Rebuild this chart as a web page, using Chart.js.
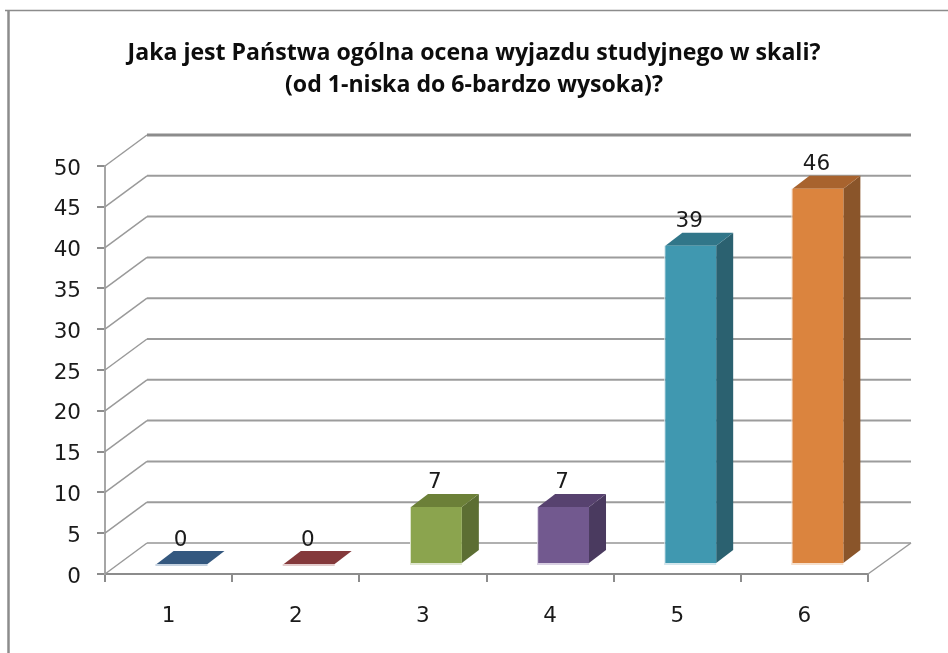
<!DOCTYPE html>
<html><head><meta charset="utf-8">
<style>html,body{margin:0;padding:0;background:#fff}canvas{display:block}</style>
<script src="https://cdn.jsdelivr.net/npm/chart.js@4"></script></head>
<body><canvas id="c" width="948" height="653"></canvas>
<script>
const titleLines = ['Jaka jest Państwa ogólna ocena wyjazdu studyjnego w skali?', '(od 1-niska do 6-bardzo wysoka)?'];
const categories = ['1', '2', '3', '4', '5', '6'];
const values = [0, 0, 7, 7, 39, 46];
const frontColors = ['#4f81bd', '#a94542', '#8ba44e', '#72598f', '#4098b0', '#db843e'];
const sideColors = ['#2c4a6e', '#6e2b2b', '#5c6e33', '#4a3a5f', '#2b6170', '#8a552a'];
const topColors = ['#34587f', '#84393b', '#6c8038', '#57426f', '#317689', '#a8632e'];
const edgeColors = ['#c5d2e0', '#e3cccc', '#dfe6cf', '#d8cfe2', '#d3e6ec', '#f6dfcb'];

const WALL = {dx: 42, dy: -31};
const BAR_SHIFT = {dx: 13.5, dy: -10};
const BAR_DEPTH = {dx: 17, dy: -13};

const look3d = {
  id: 'look3d',
  beforeDraw(chart) {
    const c = chart.ctx;
    c.save();
    c.strokeStyle = '#8c8c8c';
    c.lineWidth = 1.5;
    c.beginPath(); c.moveTo(5, 10.5); c.lineTo(948, 10.5); c.stroke();
    c.lineWidth = 2.5;
    c.beginPath(); c.moveTo(8.5, 10); c.lineTo(8.5, 653); c.stroke();
    c.restore();
  },
  beforeDatasetsDraw(chart) {
    const c = chart.ctx, y = chart.scales.y, a = chart.chartArea;
    c.save();
    y.ticks.forEach((t) => {
      const py = y.getPixelForValue(t.value);
      const top = t.value === 50;
      c.strokeStyle = t.value === 0 ? '#b0b0b0' : (top ? '#8c8c8c' : '#9c9c9c');
      c.lineWidth = top ? 3 : 2;
      c.beginPath();
      c.moveTo(a.left + WALL.dx, py + WALL.dy);
      c.lineTo(a.right + WALL.dx + 1, py + WALL.dy);
      c.stroke();
      c.strokeStyle = '#9a9a9a';
      c.lineWidth = 1.5;
      c.beginPath();
      c.moveTo(a.left, py);
      c.lineTo(a.left + WALL.dx, py + WALL.dy);
      c.stroke();
    });
    const y0 = y.getPixelForValue(0);
    c.beginPath();
    c.moveTo(a.right, y0);
    c.lineTo(a.right + WALL.dx + 1, y0 + WALL.dy);
    c.stroke();

    c.translate(BAR_SHIFT.dx, BAR_SHIFT.dy);
    chart.getDatasetMeta(0).data.forEach((bar, i) => {
      const l = bar.x - bar.width / 2, r = bar.x + bar.width / 2;
      c.fillStyle = sideColors[i];
      c.beginPath();
      c.moveTo(r, bar.y);
      c.lineTo(r + BAR_DEPTH.dx, bar.y + BAR_DEPTH.dy);
      c.lineTo(r + BAR_DEPTH.dx, bar.base + BAR_DEPTH.dy);
      c.lineTo(r, bar.base);
      c.closePath(); c.fill();
      c.fillStyle = topColors[i];
      c.beginPath();
      c.moveTo(l, bar.y);
      c.lineTo(l + BAR_DEPTH.dx, bar.y + BAR_DEPTH.dy);
      c.lineTo(r + BAR_DEPTH.dx, bar.y + BAR_DEPTH.dy);
      c.lineTo(r, bar.y);
      c.closePath(); c.fill();
      c.fillStyle = edgeColors[i];
      c.fillRect(l - 1, bar.y, 1, bar.base - bar.y + 2);
      c.fillRect(l - 1, bar.base, bar.width + 1, 2);
    });
  },
  afterDatasetsDraw(chart) {
    const c = chart.ctx;
    c.restore();
    c.save();
    c.font = '21.5px "DejaVu Sans"';
    c.fillStyle = '#1a1a1a';
    c.textAlign = 'center';
    c.textBaseline = 'middle';
    chart.getDatasetMeta(0).data.forEach((bar, i) => {
      c.fillText(String(values[i]), bar.x + BAR_SHIFT.dx - 1.5, bar.y + BAR_SHIFT.dy - 24);
    });
    c.restore();
  }
};

new Chart(document.getElementById('c'), {
  type: 'bar',
  data: {labels: categories, datasets: [{
    data: values, backgroundColor: frontColors, barPercentage: 0.4, categoryPercentage: 1, borderWidth: 0
  }]},
  plugins: [look3d],
  options: {
    responsive: false,
    animation: false,
    plugins: {
      legend: {display: false},
      tooltip: {enabled: false},
      title: {
        display: true, text: titleLines, color: '#0d0d0d',
        font: {family: 'Open Sans', size: 23.1, weight: 'bold', lineHeight: 1.385},
        padding: {top: 37, bottom: 65}
      }
    },
    scales: {
      x: {
        afterFit(s) { s.height = 79; },
        border: {color: '#8c8c8c', width: 2},
        grid: {drawOnChartArea: false, drawTicks: true, tickLength: 8, color: '#8c8c8c', lineWidth: 2},
        ticks: {color: '#1a1a1a', padding: 22, maxRotation: 0, font: {family: 'DejaVu Sans', size: 21.5}}
      },
      y: {
        min: 0, max: 50,
        afterFit(s) { s.width = 105; },
        border: {color: '#a6a6a6', width: 2},
        grid: {drawOnChartArea: false, drawTicks: true, tickLength: 8, color: '#8c8c8c', lineWidth: 2},
        ticks: {stepSize: 5, color: '#1a1a1a', padding: 16, labelOffset: 3, font: {family: 'DejaVu Sans', size: 21.5}}
      },
      wallSpace: {
        position: 'right', min: 0, max: 1,
        afterFit(s) { s.width = 80; },
        border: {display: false},
        grid: {display: false},
        ticks: {display: false}
      }
    }
  }
});
</script></body></html>
